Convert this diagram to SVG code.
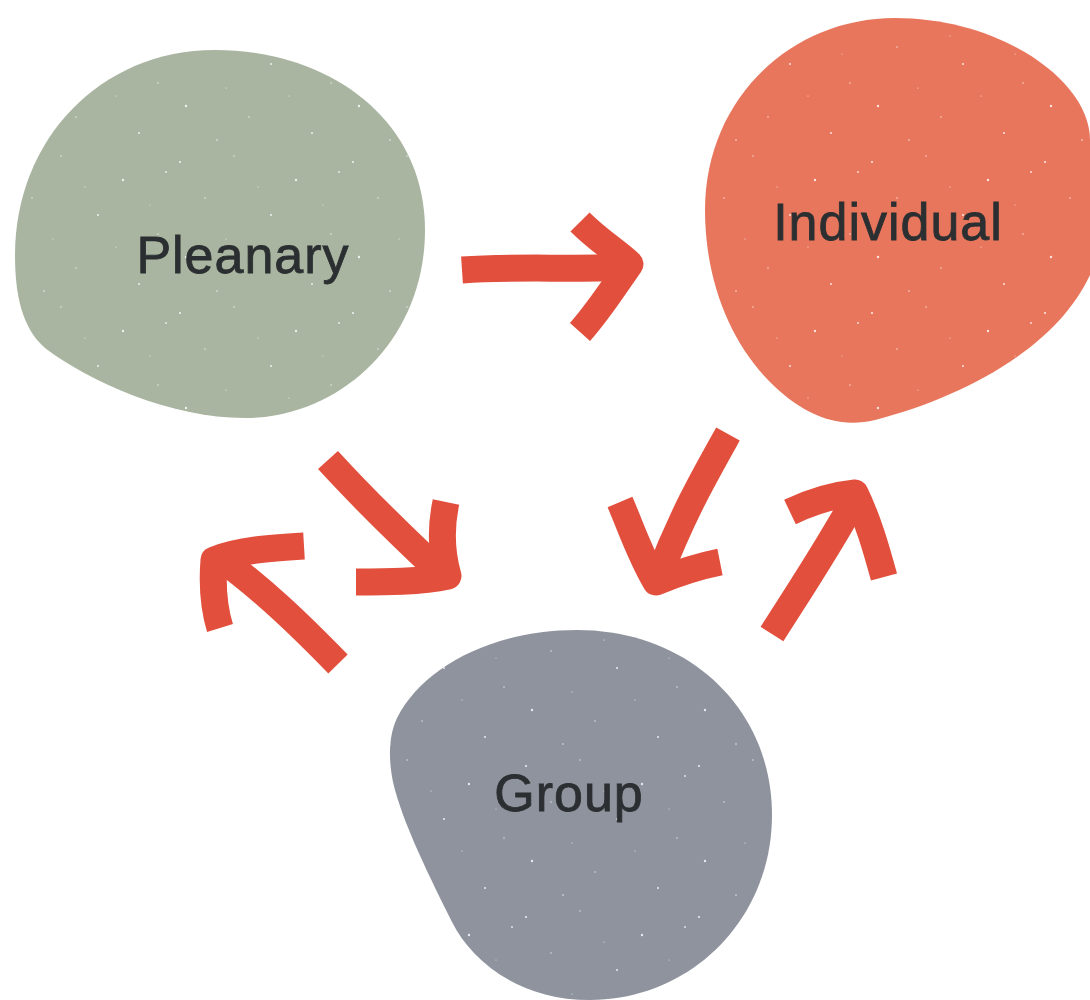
<svg xmlns="http://www.w3.org/2000/svg" width="1090" height="1000" viewBox="0 0 1090 1000">
<style>
.label{font-family:"Liberation Sans","DejaVu Sans",sans-serif;font-size:52px;letter-spacing:1px;fill:#2b2f31;stroke:#2b2f31;stroke-width:0.8;text-anchor:middle}
.arrow{fill:none;stroke:#e34f3d;stroke-width:27;stroke-linejoin:round;stroke-linecap:butt}
</style>
<defs>
<pattern id="speck" width="173" height="151" patternUnits="userSpaceOnUse">
<g fill="#ffffff" opacity="0.8">
<circle cx="7" cy="11" r="1.1"/><circle cx="61" cy="5" r="0.7"/><circle cx="123" cy="29" r="1.2"/>
<circle cx="32" cy="47" r="0.7"/><circle cx="98" cy="64" r="1"/><circle cx="158" cy="83" r="0.7"/>
<circle cx="13" cy="106" r="1.2"/><circle cx="76" cy="117" r="0.7"/><circle cx="139" cy="133" r="1"/>
<circle cx="53" cy="88" r="0.6"/><circle cx="116" cy="96" r="0.6"/><circle cx="166" cy="21" r="0.9"/>
<circle cx="44" cy="140" r="0.8"/><circle cx="85" cy="36" r="0.6"/><circle cx="150" cy="54" r="0.5"/>
</g>
</pattern>
</defs>
<rect width="1090" height="1000" fill="#ffffff"/>
<g id="node-pleanary">
<path d="M 15,255 C 15,140 100,50 215,50 C 330,50 425,120 425,230 C 425,340 340,418 245,418 C 170,418 90,382 45,348 C 22,328 15,295 15,255 Z" fill="#a9b5a0"/>
<path d="M 15,255 C 15,140 100,50 215,50 C 330,50 425,120 425,230 C 425,340 340,418 245,418 C 170,418 90,382 45,348 C 22,328 15,295 15,255 Z" fill="url(#speck)"/>
<text class="label" x="243" y="273">Pleanary</text>
</g>
<g id="node-individual">
<path d="M 705,210 C 705,100 790,18 895,18 C 1000,18 1090,80 1090,140 L 1090,275 C 1055,350 960,398 875,420 C 835,430 800,412 770,382 C 730,342 705,280 705,210 Z" fill="#e8765c"/>
<path d="M 705,210 C 705,100 790,18 895,18 C 1000,18 1090,80 1090,140 L 1090,275 C 1055,350 960,398 875,420 C 835,430 800,412 770,382 C 730,342 705,280 705,210 Z" fill="url(#speck)"/>
<text class="label" x="888" y="240">Individual</text>
</g>
<g id="node-group">
<path d="M 397,718 C 422,668 492,630 577,630 C 690,630 772,710 772,815 C 772,920 690,1000 590,1000 C 520,1000 472,962 452,922 C 432,882 402,822 393,782 C 388,757 389,735 397,718 Z" fill="#8e939e"/>
<path d="M 397,718 C 422,668 492,630 577,630 C 690,630 772,710 772,815 C 772,920 690,1000 590,1000 C 520,1000 472,962 452,922 C 432,882 402,822 393,782 C 388,757 389,735 397,718 Z" fill="url(#speck)"/>
<text class="label" x="569" y="811">Group</text>
</g>
<g id="connectors">
<path class="arrow" d="M 462,270 C 520,266 570,270 625,267"/>
<path class="arrow" d="M 580,222 C 600,242 618,252 630,264 C 612,290 598,312 580,332"/>
<path class="arrow" d="M 328,460 C 360,495 390,525 438,570"/>
<path class="arrow" d="M 446,502 C 440,530 442,555 448,576 C 420,582 385,582 356,582"/>
<path class="arrow" d="M 338,664 C 300,625 262,588 216,555"/>
<path class="arrow" d="M 304,546 C 270,548 240,550 214,560 C 212,585 213,605 220,628"/>
<path class="arrow" d="M 728,434 C 705,475 682,515 658,578"/>
<path class="arrow" d="M 620,502 C 632,530 640,555 656,582 C 680,572 700,566 720,562"/>
<path class="arrow" d="M 772,634 C 800,590 830,545 856,497"/>
<path class="arrow" d="M 790,512 C 815,500 835,495 855,493 C 868,520 876,548 884,577"/>
</g>
</svg>
